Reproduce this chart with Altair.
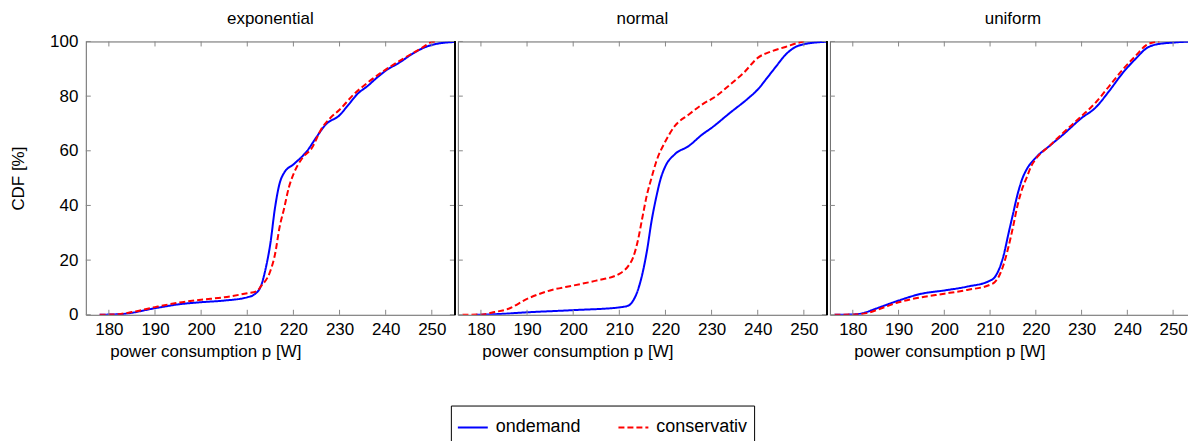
import altair as alt
import pandas as pd

FONT = "Liberation Sans"
W, H = 370, 274
W_LAST = 367

panels = ["exponential", "normal", "uniform"]
series = ["ondemand", "conservativ"]
colors = ["#0000ff", "#ff0000"]

x_ticks = [180, 190, 200, 210, 220, 230, 240, 250]
y_ticks = [0, 20, 40, 60, 80, 100]

# exponential
exp_od_p = [178, 183, 190, 195, 200, 205, 210, 211.5, 213, 214, 215, 216, 217, 218, 220, 223, 225, 227, 230, 232, 234, 236, 238, 240, 243, 246, 249, 252, 255]
exp_od_c = [0, 0.3, 2.4, 3.8, 4.6, 5.2, 6.4, 7.4, 10.7, 17, 26, 39, 48, 52, 55, 60, 65, 69.6, 73, 77, 81, 83.6, 86.6, 89.3, 92.3, 95.7, 98.2, 99.4, 99.8]
exp_co_p = [178, 182, 185, 190, 195, 200, 205, 210, 212, 213, 215, 216, 217, 218, 219, 220, 222, 224, 226, 228, 230, 233, 236, 240, 244, 248, 250, 251]
exp_co_c = [0, 0.2, 1.0, 2.8, 4.4, 5.5, 6.4, 7.9, 8.6, 10.5, 16, 22, 32, 39, 46.5, 51.4, 57.5, 61, 67.8, 72, 75, 80.5, 84.8, 89.7, 93.9, 97.8, 99.8, 100]

# normal
nor_od_p = [179, 183, 190, 200, 210, 212, 213, 214, 215, 216, 217, 218, 219, 220, 222, 225, 228, 230, 234, 238, 240, 242, 244, 246, 248, 250, 255]
nor_od_c = [0, 0.2, 0.9, 1.7, 2.7, 3.4, 5.2, 8.9, 15, 23.5, 34.4, 43, 50, 54.4, 58.7, 61.7, 66, 68.4, 73.9, 79.3, 82.4, 86.6, 90.9, 95.1, 97.8, 99, 99.9]
nor_co_p = [176, 180, 183, 186, 190, 195, 200, 205, 210, 212, 213, 214, 215, 216, 217, 218, 220, 222, 225, 228, 231, 234, 237, 240, 243, 246, 249, 250]
nor_co_c = [0, 0.1, 1.0, 2.2, 5.8, 8.9, 10.7, 12.5, 15, 18, 21, 27, 35.6, 44, 50.2, 56, 63.5, 69, 73.2, 77, 80, 84.2, 88.6, 94, 96.4, 98, 99.6, 100]

# uniform
uni_od_p = [176, 180, 182, 185, 190, 195, 200, 205, 210, 211, 212, 213, 214, 215, 216, 217, 218, 220, 223, 226, 230, 233, 236, 239, 242, 244, 246, 250, 255]
uni_od_c = [0, 0.1, 0.5, 2.2, 5.2, 7.7, 8.9, 10.3, 12.5, 13.7, 16.8, 22, 29.5, 36.8, 44, 49.6, 53.2, 57.5, 61.8, 66, 72, 75.7, 81.8, 88.5, 94, 97.3, 98.8, 99.6, 100]
uni_co_p = [176, 180, 183, 186, 190, 195, 200, 205, 210, 211, 212, 213, 214, 215, 216, 217, 218, 219, 220, 223, 226, 230, 233, 236, 239, 242, 244, 246, 247]
uni_co_c = [0, 0.1, 0.6, 2.2, 4.6, 6.4, 7.7, 9.1, 11, 11.9, 14.3, 18.6, 24.7, 32, 40, 46, 50.2, 54.4, 57, 61.8, 66.6, 72.7, 77.5, 83.6, 89.7, 95.1, 98.5, 99.8, 100]

data = {
    "exponential": [(exp_od_p, exp_od_c), (exp_co_p, exp_co_c)],
    "normal": [(nor_od_p, nor_od_c), (nor_co_p, nor_co_c)],
    "uniform": [(uni_od_p, uni_od_c), (uni_co_p, uni_co_c)],
}

xt = pd.DataFrame({"p": x_ticks})
yt = pd.DataFrame({"c": y_ticks})

xscale = alt.Scale(domain=[175, 255], nice=False, zero=False)
yscale = alt.Scale(domain=[0, 100], nice=False)

legend = alt.Legend(
    title=None, orient="none", legendX=366, legendY=365,
    direction="horizontal", symbolType="stroke", symbolSize=900,
    symbolStrokeWidth=2, labelFont=FONT, labelFontSize=18,
    labelColor="black", strokeColor="black", fillColor="white",
    padding=6, columnPadding=33, labelOffset=7, cornerRadius=0)


def make_panel(i, name):
    w = W if i < 2 else W_LAST
    rows = []
    for s, (ps, cs) in zip(series, data[name]):
        for p, c in zip(ps, cs):
            rows.append({"p": p, "cdf": c, "series": s})
    df = pd.DataFrame(rows)

    xaxis = alt.Axis(
        values=x_ticks, ticks=False, domain=False, grid=False,
        labelFont=FONT, labelFontSize=17, labelColor="black", labelPadding=7,
        title="power consumption p [W]", titleFont=FONT, titleFontSize=17,
        titleFontWeight="normal", titleColor="black", titleAnchor="start",
        titleAlign="left", titleX=24, titleY=37, titleBaseline="middle",
    )
    if i == 0:
        yaxis = alt.Axis(
            values=y_ticks, ticks=False, domain=False, grid=False,
            labelFont=FONT, labelFontSize=17, labelColor="black", labelPadding=8,
            title="CDF [%]", titleFont=FONT, titleFontSize=17,
            titleFontWeight="normal", titleColor="black", titlePadding=22,
        )
    else:
        yaxis = None

    lines = alt.Chart(df).mark_line(interpolate="monotone", strokeWidth=2, clip=True).encode(
        x=alt.X("p:Q", scale=xscale, axis=xaxis),
        y=alt.Y("cdf:Q", scale=yscale, axis=yaxis),
        color=alt.Color("series:N", scale=alt.Scale(domain=series, range=colors),
                        legend=legend if i == 0 else None),
        strokeDash=alt.StrokeDash("series:N", scale=alt.Scale(domain=series, range=[[1, 0], [6, 3]]),
                                  legend=legend if i == 0 else None),
    )

    tick_col = "#888888"
    xb = alt.Chart(xt).mark_rule(color=tick_col, strokeWidth=1).encode(
        x=alt.X("p:Q"), y=alt.value(H), y2=alt.value(H - 5))
    xtp = alt.Chart(xt).mark_rule(color=tick_col, strokeWidth=1).encode(
        x=alt.X("p:Q"), y=alt.value(0), y2=alt.value(5))
    yl = alt.Chart(yt).mark_rule(color=tick_col, strokeWidth=1).encode(
        y=alt.Y("c:Q"), x=alt.value(0), x2=alt.value(5))
    yr = alt.Chart(yt).mark_rule(color=tick_col, strokeWidth=1).encode(
        y=alt.Y("c:Q"), x=alt.value(w - 5), x2=alt.value(w))

    layers = [lines, xb, xtp, yl, yr]
    if i < 2:
        sep = alt.Chart(xt).mark_rule(color="black", strokeWidth=1.5).encode(
            x=alt.value(w), y=alt.value(0), y2=alt.value(H))
        layers.append(sep)

    return alt.layer(*layers).properties(
        width=w, height=H,
        title=alt.Title(name, font=FONT, fontSize=17, fontWeight="normal",
                        color="black", offset=5 if i == 0 else 13,
                        anchor="middle", frame="group"),
    )


chart = alt.hconcat(*[make_panel(i, n) for i, n in enumerate(panels)], spacing=0).properties(
    padding={"left": 1, "top": 0, "right": -9, "bottom": 0}
).configure_view(stroke="#666666", strokeWidth=1)

chart.save("out.html", embed_options={"renderer": "svg", "actions": False})
